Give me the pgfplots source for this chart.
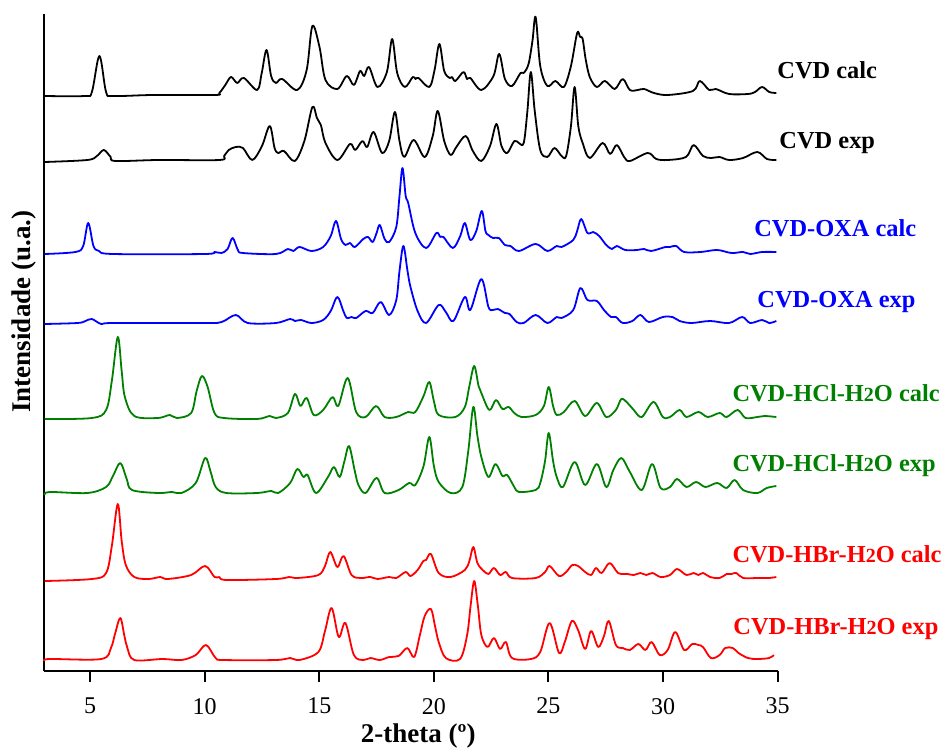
\documentclass[border=0pt]{standalone}
\usepackage{pgfplots}
\pgfplotsset{compat=1.18}
\usepackage{fontspec}
\setmainfont{Liberation Serif}

\definecolor{cvdgreen}{RGB}{0,128,0}

\begin{document}
\begin{tikzpicture}
\begin{axis}[
  scale only axis,
  width=366.75pt, height=328.5pt,
  xmin=3, xmax=35, ymin=0, ymax=657,
  axis lines*=left,
  axis line style={line width=1pt},
  xtick={5,10,...,35},
  ytick=\empty,
  tick align=outside,
  major tick length=5.5pt,
  every tick/.style={black, line width=1pt},
  /pgf/number format/assume math mode=true,
  xticklabel style={font=\fontsize{12}{14}\selectfont, yshift=-4.5pt},
  xlabel={2-theta (º)},
  ylabel={Intensidade (u.a.)},
  xlabel style={font=\fontsize{13.5}{15}\selectfont\bfseries, at={(axis description cs:0.510,-0.109)}, anchor=base},
  ylabel style={font=\fontsize{13.5}{15}\selectfont\bfseries, at={(axis description cs:-0.0275,0.547)}, anchor=center},
  clip=false,
  every axis plot/.append style={line width=0.9pt, smooth, tension=0.55, line join=round},
]
% CVD calc
\addplot[black] coordinates {
(3.02,575)(4.77,575)(5.08,579)(5.41,615)(5.70,579)(6.01,575)(7.75,576)(10.43,576)(10.64,578)(10.90,586)
(11.15,594)(11.42,588)(11.71,593)(12.29,581)(12.49,598)(12.70,621)(12.90,595)(13.11,588)(13.38,592)
(14.04,581)(14.45,601)(14.70,645)(15.01,624)(15.27,591)(15.79,582)(16.20,595)(16.51,586)(16.78,600)
(16.96,595)(17.17,604)(17.54,584)(17.95,599)(18.18,632)(18.40,598)(18.73,584)(19.08,594)(19.20,592)
(19.33,593)(19.80,584)(20.03,601)(20.24,627)(20.45,600)(20.69,593)(20.79,594)(20.94,590)(21.29,599)
(21.45,592)(21.59,593)(22.07,581)(22.60,595)(22.85,617)(23.10,592)(23.41,585)(23.78,598)(23.92,598)
(24.13,607)(24.30,630)(24.44,654)(24.64,605)(24.95,585)(25.30,590)(25.67,584)(25.98,605)(26.25,638)
(26.38,634)(26.49,632)(26.62,612)(26.80,594)(27.11,584)(27.46,590)(27.89,582)(28.24,592)(28.55,581)
(28.90,581)(29.17,582)(29.60,578)(30.20,576)(31.30,580)(31.60,590)(32.01,581)(32.30,582)(32.88,577)
(33.70,577)(34.01,579)(34.32,584)(34.63,579)(34.94,578)
};
% CVD exp
\addplot[black] coordinates {
(3.02,509)(4.88,511)(5.30,515)(5.60,521)(5.90,514)(6.11,510)(8.00,511)(10.64,511)(10.85,515)(11.05,521)
(11.36,524)(11.67,523)(12.08,511)(12.50,525)(12.84,545)(13.05,523)(13.21,518)(13.46,520)(13.93,510)
(14.35,530)(14.70,564)(14.90,553)(15.07,546)(15.27,528)(15.79,511)(16.34,527)(16.57,521)(16.88,530)
(17.09,524)(17.37,539)(17.74,518)(18.05,530)(18.30,559)(18.50,530)(18.71,514)(19.12,531)(19.60,514)
(19.95,535)(20.17,560)(20.45,530)(20.73,516)(20.98,524)(21.39,535)(21.70,520)(22.07,510)(22.45,525)
(22.73,547)(22.95,525)(23.20,518)(23.51,530)(23.71,528)(23.92,528)(24.08,560)(24.23,599)(24.40,560)
(24.64,521)(24.95,514)(25.26,523)(25.57,515)(25.77,515)(25.98,545)(26.14,584)(26.30,545)(26.49,528)
(26.80,513)(27.36,528)(27.69,517)(27.98,526)(28.30,514)(28.55,510)(29.33,518)(29.70,512)(30.20,511)
(31.00,514)(31.33,526)(31.74,515)(32.10,513)(32.46,514)(32.88,511)(33.49,513)(34.11,519)(34.53,512)
(34.94,511)
};
% CVD-OXA calc
\addplot[blue] coordinates {
(3.02,417)(4.36,419)(4.70,425)(4.92,448)(5.15,425)(5.39,420)(6.00,417)(10.00,417)(10.43,419)
(10.74,418)(11.00,422)(11.22,433)(11.45,421)(11.67,418)(13.11,417)(13.63,422)(13.87,420)(14.14,424)
(14.66,420)(15.17,424)(15.50,435)(15.73,450)(15.95,432)(16.14,426)(16.34,428)(16.55,424)(16.92,432)
(17.13,434)(17.33,429)(17.50,438)(17.64,446)(17.85,432)(18.05,429)(18.36,444)(18.50,475)(18.63,503)
(18.77,475)(18.88,468)(19.19,438)(19.66,423)(20.11,438)(20.28,434)(20.42,434)(20.83,423)(21.15,435)
(21.35,448)(21.59,431)(21.85,440)(22.09,460)(22.25,440)(22.38,436)(22.58,433)(22.83,433)(23.10,426)
(23.34,425)(23.71,420)(24.44,427)(24.95,420)(25.36,425)(25.57,424)(26.08,431)(26.25,440)(26.43,452)
(26.70,438)(26.95,439)(27.21,435)(27.52,426)(27.77,422)(27.98,425)(28.35,421)(28.86,421)(29.17,422)
(29.48,420)(30.10,424)(30.30,424)(30.57,425)(30.92,419)(31.64,419)(32.36,421)(32.98,418)(33.49,419)
(33.80,417)(34.32,419)(34.94,419)
};
% CVD-OXA exp
\addplot[blue] coordinates {
(3.02,347)(4.46,348)(4.80,350)(5.08,352)(5.49,347)(6.00,348)(10.00,348)(10.74,349)(11.36,356)
(11.88,348)(13.11,348)(13.73,352)(13.94,350)(14.20,351)(14.66,348)(15.17,351)(15.50,360)(15.79,374)
(16.05,360)(16.20,353)(16.41,354)(16.61,353)(17.02,360)(17.33,358)(17.68,369)(18.05,356)(18.36,371)
(18.50,400)(18.67,425)(18.85,400)(18.98,384)(19.29,360)(19.66,348)(20.21,366)(20.52,359)(20.85,350)
(21.35,374)(21.59,361)(22.07,392)(22.38,364)(22.58,361)(22.79,362)(23.10,358)(23.30,357)(23.61,349)
(23.92,348)(24.44,356)(24.95,348)(25.36,354)(25.57,353)(26.08,361)(26.39,383)(26.70,371)(27.11,370)
(27.42,361)(27.73,354)(27.94,354)(28.24,348)(28.66,350)(29.01,356)(29.38,349)(29.99,354)(30.41,354)
(30.72,350)(31.23,348)(32.05,350)(32.88,348)(33.45,354)(33.80,348)(34.32,351)(34.63,348)(34.94,350)
};
% CVD-HCl-H2O calc
\addplot[cvdgreen] coordinates {
(3.02,252)(5.08,253)(5.70,261)(5.95,290)(6.21,334)(6.38,300)(6.52,274)(6.93,255)(7.96,253)
(8.48,256)(8.79,253)(9.41,258)(9.65,280)(9.88,295)(10.13,284)(10.43,258)(10.85,253)(12.29,252)
(12.84,255)(13.11,253)(13.63,258)(13.94,277)(14.18,265)(14.45,273)(14.76,256)(15.17,261)(15.58,274)
(15.83,265)(16.24,293)(16.61,259)(17.02,254)(17.48,265)(17.85,254)(18.36,254)(18.88,259)(19.19,259)
(19.55,275)(19.80,289)(20.00,270)(20.21,256)(20.94,254)(21.35,264)(21.55,285)(21.76,305)(21.95,285)
(22.07,278)(22.42,261)(22.71,271)(22.99,262)(23.26,264)(23.51,258)(23.82,254)(24.44,256)(24.80,265)
(25.01,284)(25.20,265)(25.36,256)(25.67,259)(26.14,270)(26.60,255)(27.11,268)(27.52,254)(27.94,261)
(28.18,272)(28.45,268)(28.72,261)(29.07,254)(29.58,269)(29.99,254)(30.30,254)(30.72,261)(31.02,254)
(31.54,259)(31.95,254)(32.47,258)(32.77,254)(33.25,261)(33.60,253)(34.11,254)(34.42,255)(34.94,254)
};
% CVD-HCl-H2O exp
\addplot[cvdgreen] coordinates {
(3.02,176)(3.23,179)(4.88,178)(5.70,184)(6.00,195)(6.32,208)(6.60,192)(6.83,181)(7.96,178)
(8.58,179)(8.99,178)(9.61,188)(10.02,213)(10.25,200)(10.48,184)(10.95,178)(12.29,178)(12.91,180)
(13.21,178)(13.73,188)(14.04,202)(14.31,194)(14.49,196)(14.86,178)(15.38,194)(15.64,204)(15.89,194)
(16.10,210)(16.30,225)(16.55,200)(16.71,186)(17.02,178)(17.50,193)(17.85,178)(18.46,181)(18.92,188)
(19.19,186)(19.55,205)(19.80,234)(20.00,205)(20.21,189)(20.73,178)(21.24,184)(21.50,220)(21.72,264)
(21.90,235)(22.07,214)(22.38,194)(22.69,207)(22.99,195)(23.20,196)(23.51,184)(23.71,179)(24.44,181)
(24.64,188)(24.85,210)(25.01,238)(25.20,210)(25.36,194)(25.63,184)(26.14,209)(26.60,186)(27.11,207)
(27.52,184)(27.83,201)(28.18,213)(28.55,199)(29.07,181)(29.52,207)(29.89,183)(30.30,184)(30.61,192)
(31.02,184)(31.44,189)(31.85,184)(32.36,188)(32.77,183)(33.12,191)(33.49,181)(34.11,178)(34.52,183)
(34.94,185)
};
% CVD-HBr-H2O calc
\addplot[red] coordinates {
(3.02,90)(5.08,92)(5.70,98)(5.95,125)(6.21,167)(6.38,130)(6.56,106)(6.93,94)(7.55,92)(8.07,94)
(8.38,92)(9.41,96)(10.02,105)(10.43,94)(10.64,94)(10.95,91)(13.11,92)(13.69,94)(14.04,93)(14.96,96)
(15.25,105)(15.48,119)(15.79,104)(16.06,115)(16.41,96)(16.82,93)(17.23,94)(17.54,92)(18.05,94)
(18.36,93)(18.77,99)(18.98,95)(19.29,101)(19.54,110)(19.66,111)(19.87,117)(20.21,98)(20.73,94)
(21.35,101)(21.55,110)(21.72,124)(21.90,108)(22.13,101)(22.38,97)(22.62,103)(22.89,96)(23.14,99)
(23.41,93)(24.44,93)(24.85,99)(25.05,105)(25.46,95)(25.77,99)(26.04,106)(26.29,105)(26.60,99)
(26.86,96)(27.07,103)(27.32,98)(27.67,108)(28.04,98)(28.45,97)(28.72,96)(29.01,98)(29.27,96)
(29.54,98)(29.89,94)(30.30,96)(30.61,102)(31.02,96)(31.33,98)(31.54,96)(31.74,98)(32.05,94)
(32.47,93)(32.77,97)(32.98,97)(33.19,98)(33.49,93)(34.11,93)(34.63,93)(34.94,94)
};
% CVD-HBr-H2O exp
\addplot[red] coordinates {
(3.02,10)(3.23,12)(5.49,12)(5.91,23)(6.10,38)(6.32,53)(6.50,35)(6.63,23)(6.93,11)(8.17,12)
(8.99,11)(9.61,16)(10.06,26)(10.48,13)(10.85,11)(13.11,11)(13.73,13)(14.14,11)(14.96,19)(15.25,40)
(15.54,63)(15.85,34)(16.14,48)(16.51,16)(16.92,11)(17.23,13)(17.64,11)(18.05,14)(18.46,15)(18.84,23)
(19.14,14)(19.39,36)(19.60,55)(19.87,62)(20.05,45)(20.21,29)(20.52,13)(21.14,12)(21.45,36)(21.60,65)
(21.76,90)(21.92,65)(22.07,36)(22.34,24)(22.62,33)(22.89,22)(23.14,29)(23.41,13)(24.23,12)(24.64,19)
(25.05,48)(25.46,18)(25.71,29)(26.02,50)(26.29,41)(26.60,22)(26.86,40)(27.17,24)(27.42,35)(27.63,50)
(27.94,26)(28.24,23)(28.55,21)(28.92,27)(29.23,21)(29.50,29)(29.85,16)(30.20,21)(30.53,39)(30.92,21)
(31.27,27)(31.54,26)(31.74,24)(32.09,13)(32.47,16)(32.71,23)(33.04,23)(33.29,18)(33.70,13)(34.11,12)
(34.63,13)(34.83,16)
};
% sample names
\begin{scope}[every node/.style={anchor=base west, inner sep=0pt, font=\fontsize{12.2}{14}\selectfont\bfseries}]
\node[text=black] at (axis cs:34.97,592) {CVD calc};
\node[text=black] at (axis cs:35.06,522.5) {CVD exp};
\node[text=blue] at (axis cs:33.96,434) {CVD-OXA calc};
\node[text=blue] at (axis cs:34.10,363) {CVD-OXA exp};
\node[text=cvdgreen] at (axis cs:33.01,270) {CVD-HCl-H{\fontsize{10}{12}\selectfont 2}O calc};
\node[text=cvdgreen] at (axis cs:33.01,200) {CVD-HCl-H{\fontsize{10}{12}\selectfont 2}O exp};
\node[text=red] at (axis cs:33.01,108.7) {CVD-HBr-H{\fontsize{10}{12}\selectfont 2}O calc};
\node[text=red] at (axis cs:33.05,36.7) {CVD-HBr-H{\fontsize{10}{12}\selectfont 2}O exp};
\end{scope}
\end{axis}
\path ([xshift=-22.1pt,yshift=-37pt]current axis.south west) rectangle ([xshift=83.15pt,yshift=7pt]current axis.north east);
\end{tikzpicture}
\end{document}
